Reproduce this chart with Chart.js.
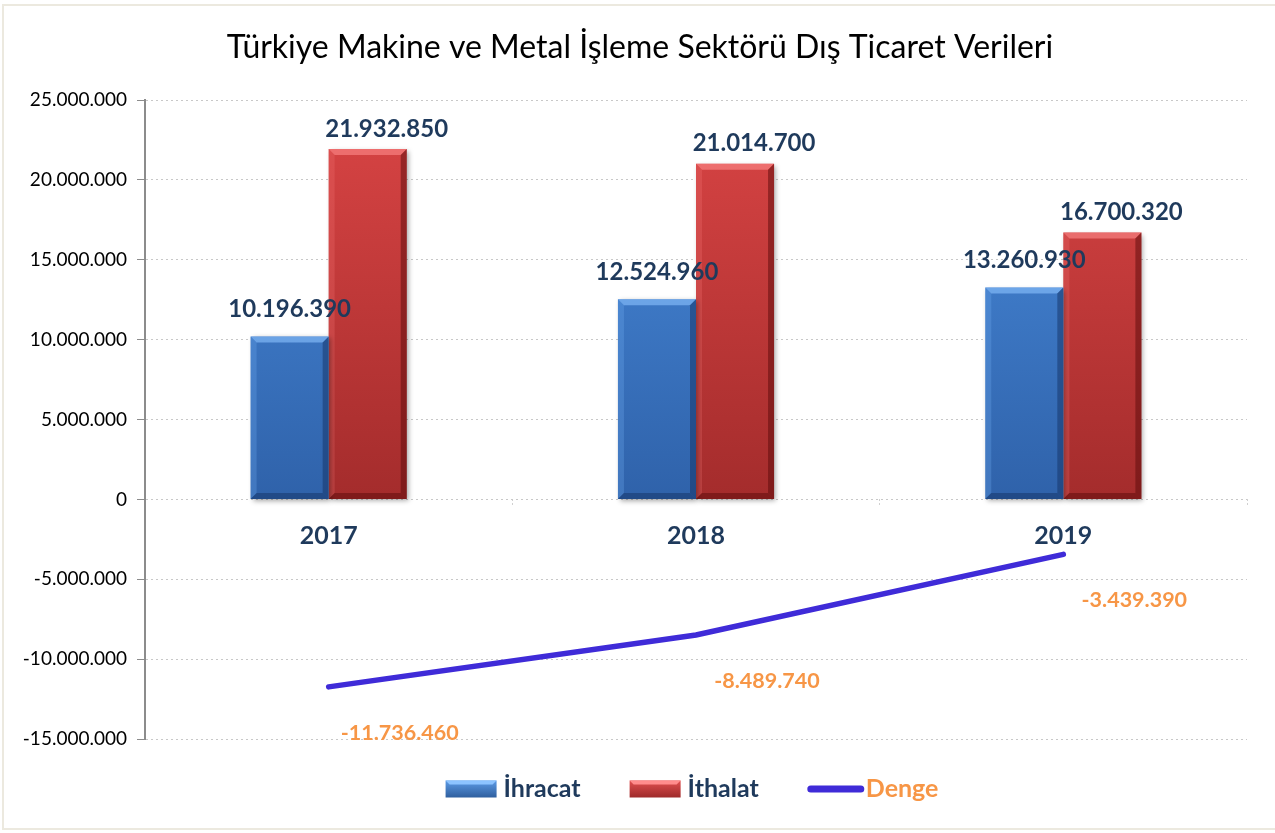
<!DOCTYPE html>
<html>
<head>
<meta charset="utf-8">
<script src="https://cdn.jsdelivr.net/npm/chart.js@4.4.0/dist/chart.umd.min.js"></script>
<style>
  html, body { margin: 0; padding: 0; background: #fff; }
  #wrap { position: relative; width: 1275px; height: 833px; }
  #frame { position: absolute; left: 2px; top: 4px; width: 1280px; height: 826px; border-left: 2px solid #ECE9DF; border-top: 2px solid #ECE9DF; border-bottom: 2px solid #ECE9DF; box-sizing: border-box; pointer-events: none; }
  canvas { position: absolute; left: 0; top: 0; }
</style>
</head>
<body>
<div id="wrap">
  <div id="frame"></div>
  <canvas id="c" width="1275" height="833"></canvas>
</div>
<script>
const title = 'Türkiye Makine ve Metal İşleme Sektörü Dış Ticaret Verileri';
const years = ['2017', '2018', '2019'];
const ihracat = [10196390, 12524960, 13260930];
const ithalat = [21932850, 21014700, 16700320];
const denge = [-11736460, -8489740, -3439390];
const seriesNames = ['İhracat', 'İthalat', 'Denge'];

const NAVY = '#1F3A5C';
const ORANGE = '#F79646';
const LINE = '#3F2BD8';
const FONT = 'Lato, "Open Sans", sans-serif';

function fmt(v) {
  const s = Math.abs(Math.round(v)).toString().replace(/\B(?=(\d{3})+(?!\d))/g, '.');
  return (v < 0 ? '-' : '') + s;
}

function vGrad(chart, c1, c2) {
  const area = chart.chartArea;
  if (!area) return c1;
  const ys = chart.scales.y;
  const g = chart.ctx.createLinearGradient(0, ys.getPixelForValue(25000000), 0, ys.getPixelForValue(0));
  g.addColorStop(0, c1);
  g.addColorStop(1, c2);
  return g;
}

const barStyle = {
  0: { light: 'rgba(140,195,255,0.6)', side: 'rgba(110,170,240,0.3)', dark: 'rgba(20,50,100,0.5)', labelDx: 0, labelDy: -27 },
  1: { light: 'rgba(255,140,140,0.6)', side: 'rgba(240,110,110,0.3)', dark: 'rgba(90,10,10,0.5)', labelDx: 19, labelDy: -20 }
};

const titlePlugin = {
  id: 'chartTitle',
  afterDraw(chart) {
    const ctx = chart.ctx;
    ctx.save();
    ctx.font = '32px ' + FONT;
    ctx.fillStyle = '#000';
    ctx.textAlign = 'center';
    ctx.textBaseline = 'middle';
    ctx.fillText(title, 640, 48);
    ctx.restore();
  }
};

const bevelPlugin = {
  id: 'bevel',
  beforeDatasetDraw(chart, args) {
    if (chart.data.datasets[args.index].type !== 'bar') return;
    const ctx = chart.ctx;
    ctx.save();
    ctx.shadowColor = 'rgba(0,0,0,0.35)';
    ctx.shadowBlur = 5;
    ctx.shadowOffsetX = 2;
    ctx.shadowOffsetY = 2;
  },
  afterDatasetDraw(chart, args) {
    if (chart.data.datasets[args.index].type !== 'bar') return;
    const ctx = chart.ctx;
    ctx.restore();
    const st = barStyle[args.index];
    const b = 6;
    args.meta.data.forEach(el => {
      const p = el.getProps(['x', 'y', 'base', 'width'], true);
      const l = p.x - p.width / 2, r = p.x + p.width / 2, t = p.y, bo = p.base;
      const poly = (pts, col) => {
        ctx.beginPath();
        ctx.moveTo(pts[0][0], pts[0][1]);
        for (let i = 1; i < pts.length; i++) ctx.lineTo(pts[i][0], pts[i][1]);
        ctx.closePath();
        ctx.fillStyle = col;
        ctx.fill();
      };
      ctx.save();
      poly([[l, t], [r, t], [r - b, t + b], [l + b, t + b]], st.light);
      poly([[l, t], [l + b, t + b], [l + b, bo - b], [l, bo]], st.side);
      poly([[r, t], [r, bo], [r - b, bo - b], [r - b, t + b]], st.dark);
      poly([[l, bo], [r, bo], [r - b, bo - b], [l + b, bo - b]], st.dark);
      ctx.restore();
    });
  }
};

const labelPlugin = {
  id: 'valueLabels',
  afterDatasetsDraw(chart) {
    const ctx = chart.ctx;
    ctx.save();
    ctx.textAlign = 'center';
    ctx.textBaseline = 'middle';
    chart.data.datasets.forEach((ds, di) => {
      const meta = chart.getDatasetMeta(di);
      meta.data.forEach((el, i) => {
        const v = ds.data[i];
        if (ds.type === 'bar') {
          const st = barStyle[di];
          ctx.font = 'bold 24px ' + FONT;
          ctx.fillStyle = NAVY;
          ctx.fillText(fmt(v), el.x + st.labelDx, el.y + st.labelDy);
        } else {
          ctx.font = 'bold 21.5px ' + FONT;
          ctx.fillStyle = ORANGE;
          ctx.fillText(fmt(v), el.x + 71, el.y + 46);
        }
      });
    });
    ctx.restore();
  }
};

const legendPlugin = {
  id: 'customLegend',
  afterDraw(chart) {
    const ctx = chart.ctx;
    ctx.save();
    ctx.font = 'bold 25px ' + FONT;
    ctx.textBaseline = 'middle';
    const yc = 789;
    const items = [
      { text: seriesNames[0], color: NAVY, kind: 'bar', c1: '#5C9BE6', c2: '#2F5F9E', light: '#8CC3FF' },
      { text: seriesNames[1], color: NAVY, kind: 'bar', c1: '#E05050', c2: '#9E2A2A', light: '#FF8C8C' },
      { text: seriesNames[2], color: ORANGE, kind: 'line' }
    ];
    const sym = 51, gap = 7, between = 49;
    let total = 0;
    items.forEach((it, i) => { total += sym + gap + ctx.measureText(it.text).width + (i < items.length - 1 ? between : 0); });
    let x = 692 - total / 2;
    items.forEach(it => {
      if (it.kind === 'bar') {
        const h = 17, t = yc - h / 2;
        const g = ctx.createLinearGradient(0, t, 0, t + h);
        g.addColorStop(0, it.c1); g.addColorStop(1, it.c2);
        ctx.fillStyle = g;
        ctx.fillRect(x, t, sym, h);
        ctx.fillStyle = it.light;
        ctx.beginPath();
        ctx.moveTo(x, t); ctx.lineTo(x + sym, t); ctx.lineTo(x + sym - 4, t + 4); ctx.lineTo(x + 4, t + 4); ctx.closePath();
        ctx.fill();
      } else {
        ctx.strokeStyle = LINE;
        ctx.lineWidth = 7;
        ctx.lineCap = 'round';
        ctx.beginPath();
        ctx.moveTo(x + 3, yc); ctx.lineTo(x + sym + 2, yc);
        ctx.stroke();
      }
      x += sym + gap;
      ctx.fillStyle = it.color;
      ctx.textAlign = 'left';
      ctx.fillText(it.text, x, yc);
      x += ctx.measureText(it.text).width + between;
    });
    ctx.restore();
  }
};

new Chart(document.getElementById('c'), {
  data: {
    labels: years,
    datasets: [
      {
        type: 'bar', label: seriesNames[0], data: ihracat, order: 1,
        backgroundColor: (c) => vGrad(c.chart, '#4A8DDE', '#2F62AA'),
        categoryPercentage: 0.425, barPercentage: 1.0, borderWidth: 0
      },
      {
        type: 'bar', label: seriesNames[1], data: ithalat, order: 1,
        backgroundColor: (c) => vGrad(c.chart, '#DA4545', '#A42C2C'),
        categoryPercentage: 0.425, barPercentage: 1.0, borderWidth: 0
      },
      {
        type: 'line', label: seriesNames[2], data: denge, order: 0,
        borderColor: LINE, borderWidth: 5.5, borderCapStyle: 'round', tension: 0,
        pointRadius: 0, fill: false
      }
    ]
  },
  options: {
    responsive: false,
    animation: false,
    layout: { padding: { left: 0, right: 28, top: 100, bottom: 94 } },
    plugins: {
      legend: { display: false },
      tooltip: { enabled: false },
      title: { display: false }
    },
    scales: {
      x: {
        position: { y: 0 },
        offset: true,
        grid: { display: true, drawOnChartArea: false, drawTicks: true, tickLength: 8, offset: true, color: '#D0D0D0', tickBorderDash: [2, 2], tickColor: '#D0D0D0' },
        border: { display: false },
        ticks: { color: NAVY, font: { family: FONT, size: 25, weight: 'bold' }, padding: 14 }
      },
      y: {
        min: -15000000, max: 25000000,
        afterFit: (s) => { s.width = 145; },
        ticks: { stepSize: 5000000, color: '#000', font: { family: FONT, size: 19 }, padding: 10, callback: (v) => fmt(v) },
        grid: { color: '#C8C8C8', tickLength: 8, tickColor: '#8C8C8C', tickBorderDash: [] },
        border: { display: true, color: '#8C8C8C', width: 2, dash: [2, 3] }
      }
    }
  },
  plugins: [titlePlugin, bevelPlugin, labelPlugin, legendPlugin]
});
</script>
</body>
</html>
